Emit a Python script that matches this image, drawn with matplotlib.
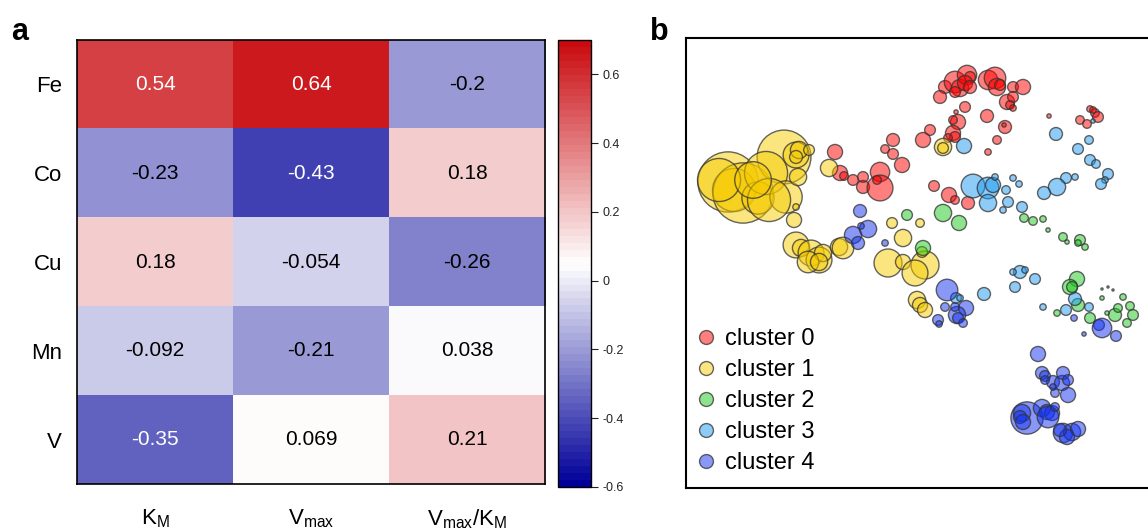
import matplotlib
matplotlib.use("Agg")
import matplotlib.pyplot as plt
import numpy as np
from matplotlib.colors import LinearSegmentedColormap
from matplotlib.lines import Line2D

plt.rcParams['font.family'] = ['Liberation Sans', 'DejaVu Sans']
plt.rcParams['mathtext.fontset'] = 'custom'
plt.rcParams['mathtext.rm'] = 'Liberation Sans'

# %% Data: correlation of metal content with kinetic parameters
metals = ['Fe', 'Co', 'Cu', 'Mn', 'V']
params = [r'$\mathregular{K_M}$', r'$\mathregular{V_{max}}$',
          r'$\mathregular{V_{max}/K_M}$']
corr = np.array([
    [0.54, 0.64, -0.2],
    [-0.23, -0.43, 0.18],
    [0.18, -0.054, -0.26],
    [-0.092, -0.21, 0.038],
    [-0.35, 0.069, 0.21],
])
cbar_ticks = [0.6, 0.4, 0.2, 0, -0.2, -0.4, -0.6]
cbar_labels = ['0.6', '0.4', '0.2', '0', '-0.2', '-0.4', '-0.6']

# %% Data: embedding coordinates (x, y) and bubble weight for each cluster
cluster0 = np.array([
    (945, 87, 6), (940, 97, 6), (955, 82, 10), (960, 88, 8), (967, 75, 9),
    (970, 77, 5), (965, 83, 7), (955, 92, 5), (970, 87, 6), (988, 80, 9),
    (995, 78, 10), (997, 87, 8), (1000, 85, 5), (1013, 87, 5), (1023, 87, 7),
    (1007, 102, 7), (1013, 97, 5), (1010, 105, 4), (1013, 108, 3),
    (965, 107, 5), (956, 112, 2), (987, 116, 6), (958, 122, 7), (953, 120, 4),
    (1005, 127, 6), (1004, 125, 2), (930, 130, 5), (953, 133, 7),
    (955, 137, 5), (948, 138, 4), (923, 140, 7), (997, 140, 4), (988, 152, 3),
    (893, 140, 6), (885, 149, 4), (893, 154, 5),
    (902, 165, 7), (835, 152, 7), (840, 173, 7), (844, 176, 4), (853, 180, 5),
    (863, 177, 5), (863, 187, 6), (880, 172, 9), (880, 188, 12), (877, 180, 4),
    (934, 186, 5), (949, 195, 7), (955, 200, 4), (968, 203, 6), (1049, 116, 2),
    (1090, 109, 3), (1095, 113, 4), (1098, 117, 5), (1080, 120, 4),
    (1087, 124, 4), (1093, 110, 3),
])
cluster1 = np.array([
    (728, 182, 28), (734, 190, 20), (743, 193, 28), (758, 198, 15),
    (784, 157, 25), (766, 173, 20), (786, 197, 15), (769, 200, 20),
    (796, 155, 12), (799, 150, 8), (809, 150, 5), (796, 157, 6), (798, 177, 8),
    (796, 207, 3), (794, 220, 7), (829, 168, 8), (719, 180, 20), (753, 180, 17),
    (943, 147, 8), (943, 148, 5),
    (796, 245, 12), (801, 248, 8), (811, 253, 12), (819, 260, 12),
    (823, 253, 8), (808, 262, 10), (819, 262, 8), (839, 247, 8), (843, 248, 10),
    (892, 223, 5), (920, 223, 4), (903, 238, 8), (888, 263, 13), (903, 262, 7),
    (925, 265, 13), (915, 273, 12), (922, 252, 5), (917, 300, 8), (920, 305, 7),
    (925, 310, 7),
])
cluster2 = np.array([
    (907, 215, 5), (943, 213, 8), (959, 223, 7), (923, 248, 7),
    (1024, 218, 4), (1033, 221, 4), (1043, 219, 3), (1048, 230, 2),
    (1063, 237, 4), (1067, 242, 2), (1080, 240, 5), (1078, 243, 3),
    (1085, 247, 3), (1077, 279, 7), (1070, 287, 7), (1072, 287, 5),
    (1078, 305, 6), (1057, 313, 3), (1090, 318, 5), (1102, 298, 2),
    (1102, 289, 1), (1108, 287, 1), (1113, 290, 1), (1123, 297, 3),
    (1130, 306, 4), (1133, 315, 5), (1115, 315, 6), (1118, 308, 4),
    (1127, 323, 4), (1107, 313, 2),
])
cluster3 = np.array([
    (964, 146, 7), (973, 186, 11), (988, 188, 10), (993, 185, 7),
    (988, 203, 8), (995, 177, 3), (1006, 190, 4), (1008, 202, 5),
    (1003, 210, 3), (1022, 207, 5), (1013, 178, 3), (1019, 184, 3),
    (1056, 134, 6), (1089, 140, 4), (1078, 149, 5), (1090, 160, 5),
    (1096, 164, 4), (1108, 174, 5), (1105, 180, 3), (1101, 184, 5),
    (1066, 178, 5), (1075, 177, 3), (1057, 187, 8), (1044, 193, 6),
    (1093, 121, 2), (1020, 272, 6), (1013, 272, 3), (1025, 270, 3),
    (1035, 279, 5), (1015, 287, 5), (1043, 307, 3), (1066, 310, 5),
    (1075, 299, 6), (1089, 307, 4), (984, 294, 6), (956, 298, 5),
    (960, 298, 3),
])
cluster4 = np.array([
    (860, 211, 6), (868, 229, 8), (853, 235, 8), (858, 243, 6), (861, 226, 3),
    (885, 243, 3), (947, 290, 10), (966, 308, 7), (957, 315, 8), (958, 318, 5),
    (945, 307, 4), (955, 307, 4), (963, 323, 4), (938, 320, 5), (939, 324, 3),
    (1074, 318, 3), (1099, 325, 5), (1102, 328, 9), (1116, 336, 5),
    (1084, 334, 2), (1038, 354, 7), (1042, 373, 6), (1045, 376, 5),
    (1053, 382, 6), (1062, 383, 7), (1063, 373, 6), (1068, 380, 5),
    (1055, 393, 4), (1068, 395, 7), (1053, 387, 3), (1045, 380, 4),
    (1027, 418, 15), (1022, 413, 8), (1020, 417, 6), (1023, 422, 7),
    (1042, 408, 8), (1047, 412, 7), (1052, 413, 7), (1048, 417, 10),
    (1055, 407, 4), (1063, 433, 9), (1072, 432, 8), (1078, 429, 7),
    (1067, 437, 7), (1060, 430, 6),
])
clusters = [cluster0, cluster1, cluster2, cluster3, cluster4]
cluster_names = ['cluster 0', 'cluster 1', 'cluster 2', 'cluster 3', 'cluster 4']
cluster_colors = ['#ff0000', '#f7cc00', '#1ec81e', '#1e9bf0', '#1432f0']

# %% Figure
fig = plt.figure(figsize=(11.48, 5.32), dpi=100)

# heatmap panel
ax = fig.add_axes([0.0671, 0.0902, 0.4077, 0.8346])
cmap = LinearSegmentedColormap.from_list(
    'bwr_cor', [(0.0, 0.0, 0.6), (1, 1, 1), (0.79, 0.04, 0.06)], N=64)
im = ax.imshow(corr, cmap=cmap, vmin=-0.6, vmax=0.7, aspect='auto')
for i in range(corr.shape[0]):
    for j in range(corr.shape[1]):
        v = corr[i, j]
        ax.text(j, i, f'{v:g}', ha='center', va='center', fontsize=15,
                color='white' if abs(v) > 0.3 else 'black')
ax.set_yticks(range(len(metals)))
ax.set_yticklabels(metals, fontsize=16)
ax.set_xticks(range(len(params)))
ax.set_xticklabels(params, fontsize=16)
ax.tick_params(axis='y', length=0, pad=11)
ax.tick_params(axis='x', length=0, pad=17)
for s in ax.spines.values():
    s.set_linewidth(1.2)

cax = fig.add_axes([0.486, 0.0846, 0.0287, 0.840])
cb = fig.colorbar(im, cax=cax)
cb.set_ticks(cbar_ticks)
cb.set_ticklabels(cbar_labels)
cax.tick_params(labelsize=9, length=5, width=0.8, colors='#222222')
cb.outline.set_linewidth(1.0)

# cluster bubble panel
bx = fig.add_axes([0.5976, 0.0827, 0.4085, 0.8459])
for data, color in zip(clusters, cluster_colors):
    face = matplotlib.colors.to_rgba(color, 0.5)
    bx.scatter(data[:, 0], data[:, 1], s=(1.55 * data[:, 2]) ** 2,
               facecolor=face, edgecolor=(0.2, 0.2, 0.2, 0.75), linewidth=1.0)
bx.set_xlim(686, 1155)
bx.set_ylim(488, 38)
bx.set_xticks([])
bx.set_yticks([])
for s in bx.spines.values():
    s.set_linewidth(1.5)

handles = [Line2D([], [], marker='o', linestyle='', markersize=10,
                  markerfacecolor=matplotlib.colors.to_rgba(c, 0.5),
                  markeredgecolor=(0.2, 0.2, 0.2, 0.75))
           for c in cluster_colors]
bx.legend(handles, cluster_names, loc='upper left',
          bbox_to_anchor=(0.002, 0.366), frameon=False, fontsize=17,
          handletextpad=0.2, labelspacing=0.38, borderaxespad=0,
          borderpad=0.2, handlelength=1.2)

fig.text(0.010, 0.94, 'a', fontsize=22, fontweight='bold', va='center')
fig.text(0.566, 0.94, 'b', fontsize=22, fontweight='bold', va='center')

fig.savefig('out.png', dpi=100)
